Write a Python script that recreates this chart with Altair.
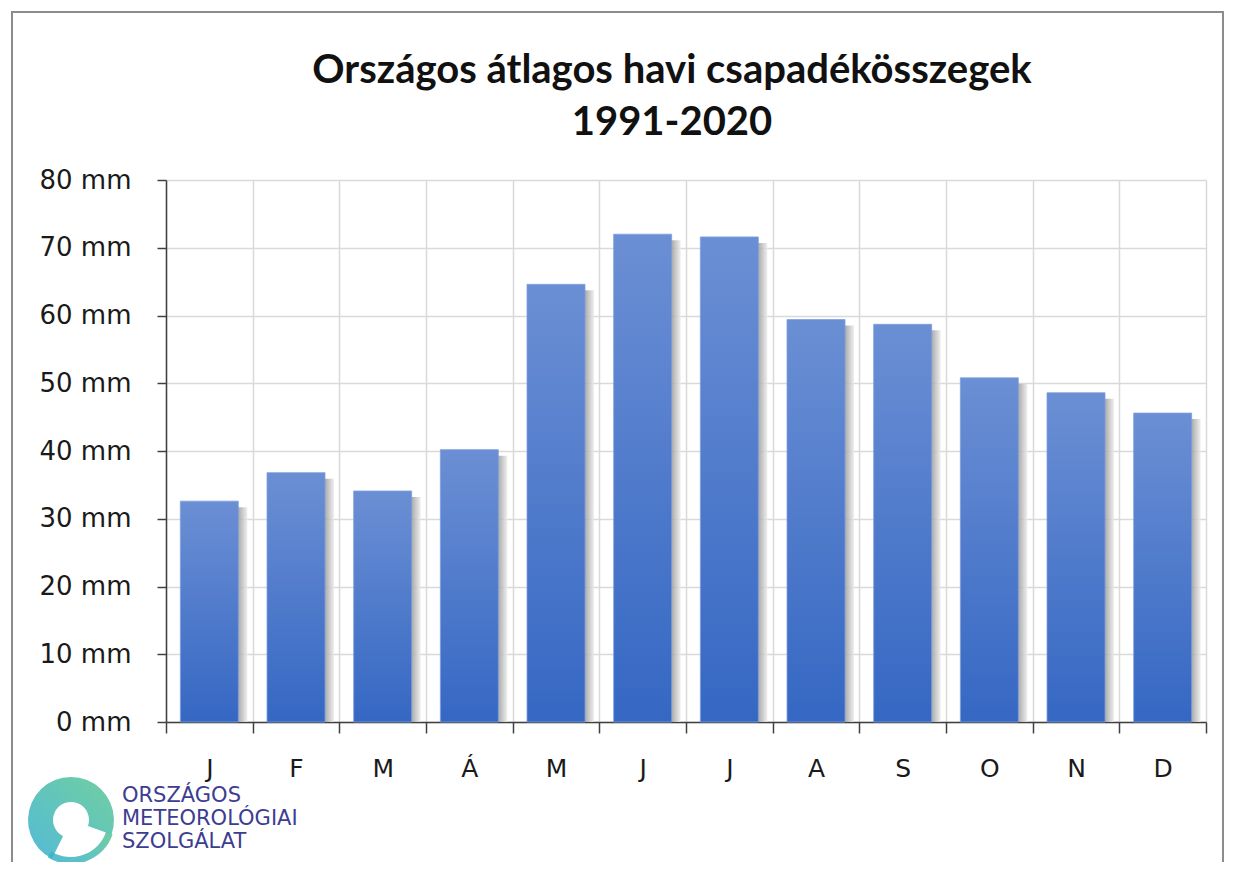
import altair as alt
import pandas as pd

# ---- data ----
months = ["J", "F", "M", "Á", "M", "J", "J", "A", "S", "O", "N", "D"]
precip_mm = [32.6, 36.8, 34.1, 40.2, 64.6, 72.0, 71.6, 59.4, 58.7, 50.8, 48.6, 45.6]
y_ticks = [0, 10, 20, 30, 40, 50, 60, 70, 80]
title_lines = ["Országos átlagos havi csapadékösszegek", "1991-2020"]
logo_lines = ["ORSZÁGOS", "METEOROLÓGIAI", "SZOLGÁLAT"]

df = pd.DataFrame({"idx": list(range(len(months))), "month": months, "value": precip_mm})

W, H = 1040, 542
label_expr = "[" + ",".join("'" + m + "'" for m in months) + "][datum.value]"

x_enc = alt.X(
    "idx:O",
    title=None,
    scale=alt.Scale(paddingInner=0, paddingOuter=0),
    axis=alt.Axis(
        labelExpr=label_expr,
        labelAngle=0,
        tickBand="extent",
        grid=True,
        gridColor="#d9d9d9",
        gridWidth=1.5,
        domainColor="#404040",
        domainWidth=1.5,
        tickColor="#404040",
        tickWidth=1.5,
        tickSize=11,
        labelPadding=23,
        labelFont="DejaVu Sans",
        labelFontSize=25,
        labelColor="#1a1a1a",
    ),
)
y_enc = alt.Y(
    "value:Q",
    title=None,
    scale=alt.Scale(domain=[0, 80], nice=False),
    axis=alt.Axis(
        values=y_ticks,
        labelExpr="datum.value + ' mm'",
        grid=True,
        gridColor="#d9d9d9",
        gridWidth=1.5,
        domainColor="#404040",
        domainWidth=1.5,
        tickColor="#404040",
        tickWidth=1.5,
        tickSize=9,
        labelPadding=26,
        labelFont="DejaVu Sans",
        labelFontSize=26,
        labelColor="#1a1a1a",
    ),
)

bar_grad = alt.Gradient(
    gradient="linear",
    stops=[
        alt.GradientStop(color="#6b8fd4", offset=0),
        alt.GradientStop(color="#3567c3", offset=1),
    ],
    x1=0, x2=0, y1=0, y2=1,
)
shadow_grad = alt.Gradient(
    gradient="linear",
    stops=[
        alt.GradientStop(color="#8a8a8a", offset=0),
        alt.GradientStop(color="#909090", offset=0.82),
        alt.GradientStop(color="#ececec", offset=1),
    ],
    x1=0, x2=1, y1=0, y2=0,
)

base = alt.Chart(df)

shadow = base.mark_bar(
    size=58, xOffset=9, yOffset=6, color=shadow_grad, opacity=0.85, clip=True
).encode(x=x_enc, y=y_enc)
bars = base.mark_bar(size=58, color=bar_grad, stroke="#7f9fdc", strokeWidth=0.8).encode(
    x=x_enc, y=y_enc
)

one = pd.DataFrame({"a": [0]})

border = alt.Chart(one).mark_rect(fill=None, stroke="#8c8c8c", strokeWidth=2).encode(
    x=alt.value(-154), x2=alt.value(1057), y=alt.value(-168), y2=alt.value(720)
)

title = alt.Chart(one).mark_text(
    text=title_lines,
    align="center",
    baseline="alphabetic",
    font="Lato",
    fontSize=40,
    fontWeight="bold",
    lineHeight=52,
    color="#111111",
).encode(x=alt.value(506), y=alt.value(-97))

swirl_grad = alt.Gradient(
    gradient="linear",
    stops=[
        alt.GradientStop(color="#35afcf", offset=0),
        alt.GradientStop(color="#58c690", offset=1),
    ],
    x1=0, x2=1, y1=1, y2=0,
)
swirl_ring = alt.Chart(one).mark_arc(
    innerRadius=18, outerRadius=43, theta=3.6, theta2=8.2, color=swirl_grad, opacity=0.85
).encode(x=alt.value(-95), y=alt.value(640))
swirl_tail = alt.Chart(one).mark_arc(
    innerRadius=37, outerRadius=44, theta=1.9, theta2=3.7, color=swirl_grad, opacity=0.85
).encode(x=alt.value(-95), y=alt.value(640))

logo_text = alt.Chart(one).mark_text(
    text=logo_lines,
    align="left",
    baseline="top",
    font="DejaVu Sans",
    fontSize=21,
    lineHeight=23,
    color="#3d3d91",
).encode(x=alt.value(-44), y=alt.value(605))

chart = (
    alt.layer(border, shadow, bars, swirl_tail, swirl_ring, logo_text, title)
    .properties(
        width=W,
        height=H,
        autosize=alt.AutoSizeParams(type="none"),
        padding={"left": 158, "top": 172, "right": 18, "bottom": 140},
        background="white",
    )
    .configure_view(stroke=None)
)

chart.save("out.html", embed_options={"renderer": "svg", "actions": False})
